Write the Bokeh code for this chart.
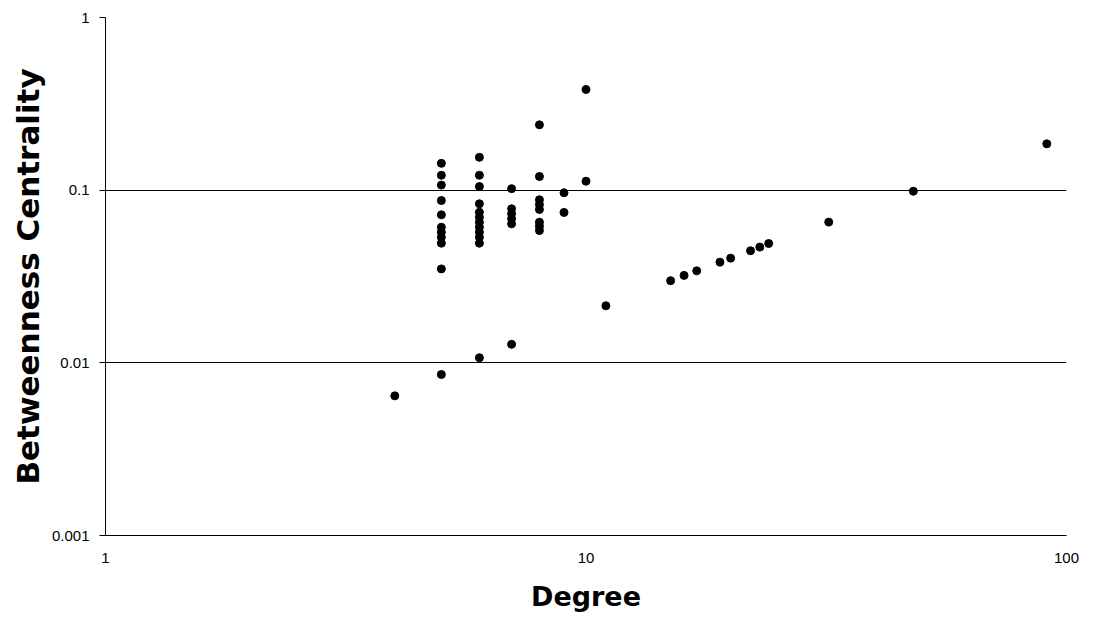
from bokeh.plotting import figure
from bokeh.models import FixedTicker, CustomJSTickFormatter, ColumnDataSource
from bokeh.embed import file_html
from bokeh.resources import INLINE

degree = [4,
          5, 5, 5, 5, 5, 5, 5, 5, 5, 5, 5,
          6, 6, 6, 6, 6, 6, 6, 6, 6, 6, 6, 6,
          7, 7, 7, 7, 7, 7,
          8, 8, 8, 8, 8, 8, 8, 8,
          9, 9,
          10, 10,
          11, 15, 16, 17, 19, 20, 22, 23, 24, 32, 48, 91]
betweenness = [0.00644,
               0.143, 0.122, 0.107, 0.0871, 0.072, 0.061, 0.0571, 0.0534, 0.0493, 0.035, 0.00856,
               0.155, 0.122, 0.105, 0.0834, 0.0745, 0.0697, 0.0652, 0.061, 0.0571, 0.0534, 0.0493, 0.0107,
               0.102, 0.078, 0.073, 0.0683, 0.0638, 0.0128,
               0.239, 0.120, 0.088, 0.0826, 0.0773, 0.0652, 0.0618, 0.0584,
               0.0966, 0.0743,
               0.383, 0.1127,
               0.0214, 0.0299, 0.0321, 0.0341, 0.0383, 0.0404, 0.0446, 0.0468, 0.0491, 0.0653, 0.0986, 0.1855]

x_ticks = [1, 10, 100]
y_ticks = [0.001, 0.01, 0.1, 1]

src = ColumnDataSource(dict(x=degree, y=betweenness))

p = figure(width=1090, height=630, x_axis_type="log", y_axis_type="log",
           x_range=(1, 100), y_range=(0.001, 1),
           output_backend="svg", toolbar_location=None,
           min_border_left=105, min_border_right=24, min_border_top=17, min_border_bottom=95)
p.outline_line_color = None
p.background_fill_color = "white"
p.border_fill_color = "white"

p.scatter("x", "y", source=src, size=8, marker="circle", color="black")

p.xaxis.ticker = FixedTicker(ticks=x_ticks)
p.yaxis.ticker = FixedTicker(ticks=y_ticks)
p.xaxis.formatter = CustomJSTickFormatter(code="return tick.toString();")
p.yaxis.formatter = CustomJSTickFormatter(code="return tick.toString();")

for ax in (p.xaxis[0], p.yaxis[0]):
    ax.axis_line_color = "black"
    ax.axis_line_width = 1
    ax.minor_tick_line_color = None
    ax.major_label_text_font = "Liberation Sans"
    ax.major_label_text_font_size = "15px"
    ax.major_label_text_color = "black"
    ax.axis_label_text_font = "DejaVu Sans"
    ax.axis_label_text_font_style = "bold"
    ax.axis_label_text_color = "black"

p.xaxis.major_tick_line_color = None
p.xaxis.major_tick_out = 0
p.xaxis.major_tick_in = 0
p.xaxis.major_label_standoff = 17
p.xaxis.axis_label = "Degree"
p.xaxis.axis_label_text_font_size = "27px"
p.xaxis.axis_label_standoff = 15

p.yaxis.major_tick_line_color = "black"
p.yaxis.major_tick_out = 6
p.yaxis.major_tick_in = 0
p.yaxis.major_label_standoff = 10
p.yaxis.axis_label = "Betweenness Centrality"
p.yaxis.axis_label_text_font_size = "31px"
p.yaxis.axis_label_standoff = 3

p.xgrid.grid_line_color = None
p.ygrid.ticker = FixedTicker(ticks=y_ticks)
p.ygrid.grid_line_color = "black"
p.ygrid.grid_line_width = 1

open("out.html", "w").write(file_html(p, INLINE))
